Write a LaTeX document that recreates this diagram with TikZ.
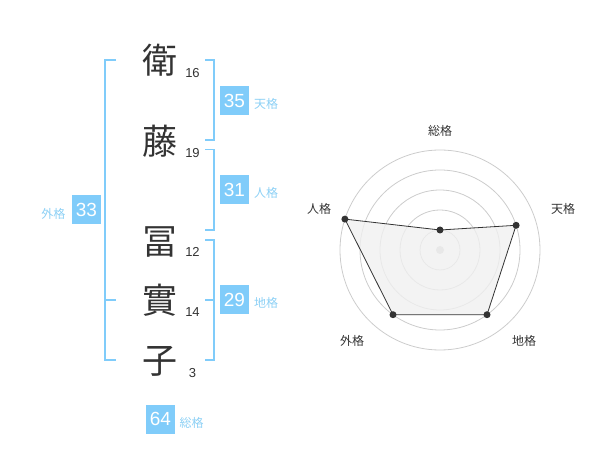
\documentclass[tikz,border=0pt]{standalone}
\usepackage{fontspec}
\setmainfont{Liberation Sans}
\newfontfamily\cjk{Noto Sans CJK JP}
\definecolor{kblue}{RGB}{128,204,250}
\definecolor{klabel}{RGB}{140,208,245}
\definecolor{kdark}{RGB}{51,51,51}
\definecolor{kgrid}{RGB}{204,204,204}
\definecolor{kfill}{RGB}{240,240,240}
\tikzset{
  kanji/.style={inner sep=0pt, text=kdark, font=\cjk\fontsize{35}{35}\selectfont},
  stroke/.style={inner sep=0pt, text=kdark, font=\fontsize{13}{13}\selectfont},
  valbox/.style={fill=kblue, text=white, minimum size=29pt, inner sep=0pt, font=\fontsize{19}{19}\selectfont},
  vallabel/.style={inner sep=0pt, text=klabel, font=\cjk\fontsize{12}{12}\selectfont},
  brk/.style={draw=kblue, line width=1.8pt},
  ring/.style={draw=kgrid, line width=0.8pt},
  axlabel/.style={inner sep=0pt, text=kdark, font=\cjk\fontsize{12}{12}\selectfont},
  dot/.style={circle, fill=kdark, inner sep=0pt, minimum size=7pt},
}
\begin{document}
\begin{tikzpicture}[x=1pt,y=-1pt]
\useasboundingbox (0,0) rectangle (600,470);
% kanji
\node[kanji] (c1) at (160,60) {衛};
\node[kanji] (c2) at (160,141.5) {藤};
\node[kanji] (c3) at (160,241.5) {冨};
\node[kanji] (c4) at (160,300.5) {實};
\node[kanji] (c5) at (160,361) {子};
% stroke counts
\node[stroke] (n1) at (192.5,72.7) {16};
\node[stroke] (n2) at (192.5,152.7) {19};
\node[stroke] (n3) at (192.5,252.3) {12};
\node[stroke] (n4) at (192.5,312.3) {14};
\node[stroke] (n5) at (192.5,373.3) {3};
% brackets
\draw[brk] (205,60) -- (214,60) -- (214,140) -- (205,140);
\draw[brk] (205,149.5) -- (214,149.5) -- (214,230) -- (205,230);
\draw[brk] (205,240) -- (214,240) -- (214,360) -- (205,360);
\draw[brk] (205,300) -- (214,300);
\draw[brk] (116,60) -- (105,60) -- (105,360) -- (116,360);
\draw[brk] (105,300) -- (116,300);
% value boxes
\node[valbox] (b1) at (234.5,100.5) {35};
\node[vallabel] (l1) at (266,104) {天格};
\node[valbox] (b2) at (234.5,190) {31};
\node[vallabel] (l2) at (266,193) {人格};
\node[valbox] (b3) at (234.5,300) {29};
\node[vallabel] (l3) at (266,303) {地格};
\node[valbox] (b4) at (86.5,210) {33};
\node[vallabel] (l4) at (53.5,213.5) {外格};
\node[valbox] (b5) at (160.5,419) {64};
\node[vallabel] (l5) at (191.5,422.5) {総格};
% radar chart
\coordinate (ctr) at (440,250);
\foreach \r in {20,40,60,80,100} \draw[ring] (ctr) circle[radius=\r];
\fill[kgrid] (ctr) circle[radius=4];
\coordinate (p1) at (440,230);
\coordinate (p2) at (516.1,225.3);
\coordinate (p3) at (487,314.7);
\coordinate (p4) at (393,314.7);
\coordinate (p5) at (344.9,219.1);
\draw[draw=kdark, fill=kfill, fill opacity=0.8, line width=0.8pt] (p1) -- (p2) -- (p3) -- (p4) -- (p5) -- cycle;
\foreach \p in {p1,p2,p3,p4,p5} \node[dot] at (\p) {};
\node[axlabel] (a1) at (440,131) {総格};
\node[axlabel] (a2) at (563,209) {天格};
\node[axlabel] (a3) at (524,341) {地格};
\node[axlabel] (a4) at (352,341) {外格};
\node[axlabel] (a5) at (319,209) {人格};
\end{tikzpicture}
\end{document}
